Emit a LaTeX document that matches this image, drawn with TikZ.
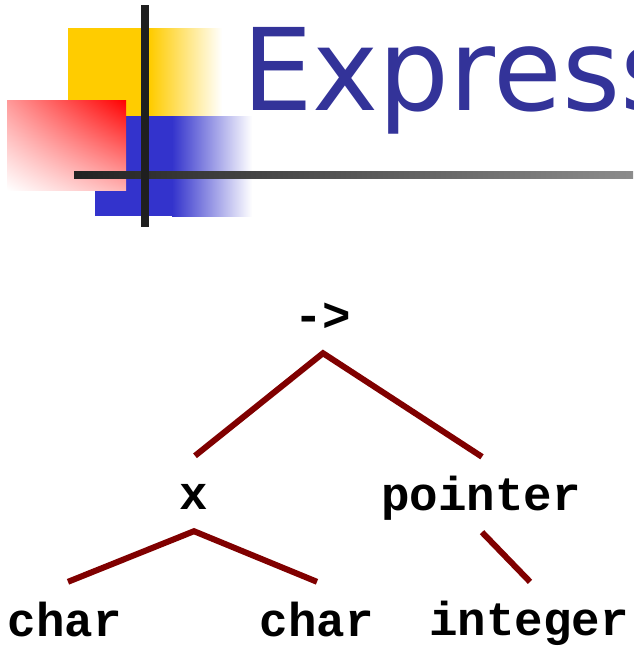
\documentclass[tikz,border=0pt]{standalone}
\usepackage{fontspec}
\usetikzlibrary{shadings}
\newfontfamily\titlefont{DejaVu Sans}
\newfontfamily\treefont{Liberation Mono}
\definecolor{logoyellow}{HTML}{FFCC00}
\definecolor{logoblue}{HTML}{3333CC}
\definecolor{titleblue}{HTML}{333399}
\definecolor{barblack}{HTML}{1F1F1F}
\definecolor{bardark}{HTML}{222222}
\definecolor{barlight}{HTML}{8C8C8C}
\definecolor{branchred}{HTML}{800000}
\begin{document}
\begin{tikzpicture}[x=1pt,y=-1pt,
  treelabel/.style={font=\treefont\bfseries\fontsize{47.5}{50}\selectfont,
    text height=53pt, text depth=22pt, inner sep=0pt, anchor=base},
  leaflabel/.style={treelabel, text depth=0pt},
  branch/.style={draw=branchred, line width=6pt, line join=miter}]
\useasboundingbox (0,0) rectangle (633,646);
\begin{scope}
  \clip (0,0) rectangle (633,646);
  % yellow block fading to the right
  \fill[logoyellow] (68,28) rectangle (151,116);
  \shade[left color=logoyellow, right color=white] (150,28) rectangle (222,116);
  % blue block fading to the right
  \fill[logoblue] (95,116) rectangle (173,216);
  \shade[left color=logoblue, right color=white] (172,116) rectangle (252,216);
  % red block, strongest in the upper right corner
  \shade[upper right=red, upper left=red!40, lower right=red!30, lower left=white]
    (7,100) rectangle (126,190);
  % rule under the title and the vertical bar
  \shade[left color=bardark, right color=barlight] (74,171) rectangle (633,178);
  \fill[barblack] (141,5) rectangle (149,227);
  % title
  \node[anchor=base west, inner sep=0pt, text=titleblue,
        font=\titlefont\fontsize{114}{120}\selectfont] (title) at (242,110)
        {\scalebox{0.98}[1]{Express}};
\end{scope}

% expression tree
\node[treelabel] (op)  at (323,331) {->};
\node[treelabel] (x)   at (194,509) {x};
\node[treelabel] (ptr) at (481,510) {pointer};
\node[leaflabel] (c1)  at (65,636)  {char};
\node[leaflabel] (c2)  at (317,636) {char};
\node[leaflabel] (int) at (529,635) {integer};

\draw[branch] ([xshift=1pt]x.north) -- (op.south) -- ([xshift=1pt]ptr.north);
\draw[branch] ([xshift=3pt,yshift=1pt]c1.north) -- (x.south) -- ([yshift=1pt]c2.north);
\draw[branch] ([xshift=1pt]ptr.south) -- ([xshift=1pt]int.north);
\end{tikzpicture}
\end{document}
